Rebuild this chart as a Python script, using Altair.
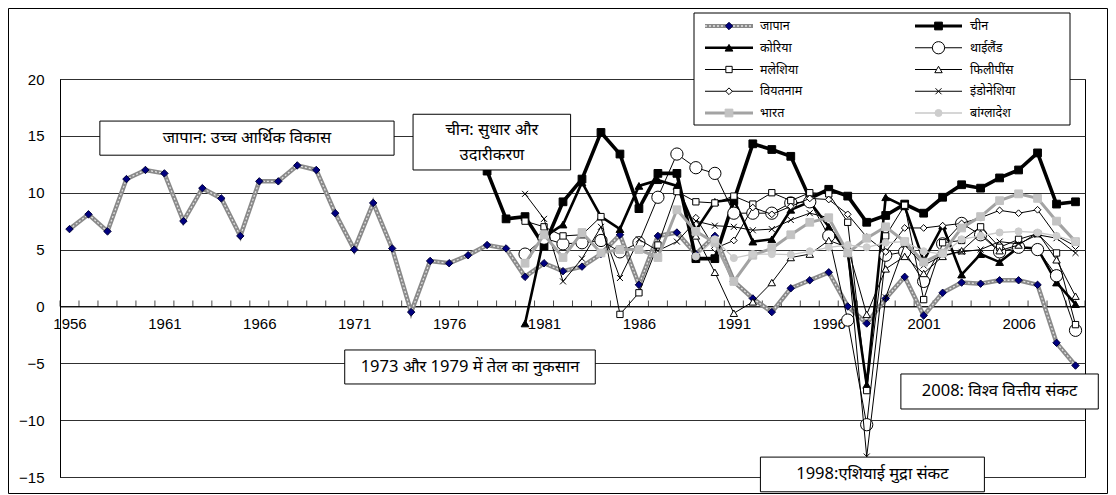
import altair as alt
import pandas as pd

# ---------------- data ----------------
years_japan = list(range(1956, 2010))
japan = [6.8, 8.1, 6.6, 11.2, 12.0, 11.7, 7.5, 10.4, 9.5, 6.2,
         11.0, 11.0, 12.4, 12.0, 8.2, 5.0, 9.1, 5.1, -0.5, 4.0,
         3.8, 4.5, 5.4, 5.1, 2.6, 3.8, 3.1, 3.5, 4.6, 6.3,
         1.9, 6.2, 6.5, 4.6, 6.2, 2.2, 0.7, -0.5, 1.6, 2.3,
         3.0, 0.0, -1.5, 0.7, 2.6, -0.8, 1.2, 2.1, 2.0, 2.3,
         2.3, 1.9, -3.2, -5.2]

years_china = list(range(1978, 2010))
china = [11.9, 7.7, 7.9, 5.3, 9.2, 11.2, 15.3, 13.4, 8.6, 11.7,
         11.7, 4.2, 4.2, 9.3, 14.3, 13.8, 13.2, 9.5, 10.3, 9.7,
         7.4, 8.0, 9.0, 8.2, 9.6, 10.7, 10.4, 11.3, 12.0, 13.5,
         9.0, 9.2]

years_1980 = list(range(1980, 2010))
korea = [-1.5, 6.1, 7.2, 10.9, 7.9, 6.8, 10.6, 11.1, 10.6, 6.7,
         9.2, 9.4, 5.7, 5.9, 8.5, 9.2, 7.0, 4.7, -6.9, 9.6,
         8.8, 4.0, 7.1, 2.8, 4.6, 3.9, 5.2, 5.1, 2.1, 0.2]
thailand = [4.6, 6.0, 5.5, 5.6, 5.8, 4.8, 5.6, 9.6, 13.4, 12.2,
            11.7, 8.2, 8.2, 8.2, 9.1, 9.2, 6.2, -1.2, -10.4, 4.5,
            4.8, 2.2, 5.5, 7.3, 6.3, 4.8, 5.2, 5.0, 2.7, -2.1]
malaysia = [7.5, 7.0, 6.2, 6.3, 7.9, -0.7, 1.2, 5.4, 10.1, 9.2,
            9.1, 9.7, 9.0, 10.0, 9.3, 10.0, 9.9, 7.4, -7.4, 6.2,
            8.9, 0.6, 5.6, 5.8, 7.0, 5.2, 5.9, 6.4, 4.7, -1.6]
indonesia = [9.9, 7.7, 2.2, 4.2, 7.0, 2.5, 5.9, 4.9, 5.7, 7.5,
             7.1, 7.0, 6.7, 6.8, 7.6, 8.2, 7.8, 4.7, -13.2, 0.8,
             5.4, 3.6, 4.5, 4.8, 5.0, 5.7, 5.5, 6.3, 6.0, 4.7]
india = [3.8, 6.3, 4.3, 6.5, 4.7, 5.0, 5.0, 4.3, 8.5, 6.6,
         5.6, 2.2, 4.5, 5.1, 6.3, 7.4, 7.8, 4.7, 6.0, 7.0,
         5.7, 3.9, 4.7, 6.9, 7.9, 9.3, 9.9, 9.5, 7.5, 5.7]

years_1989 = list(range(1989, 2010))
philippines = [6.2, 3.0, -0.6, 0.4, 2.1, 4.3, 4.6, 5.8, 5.2, -0.7,
               3.3, 4.4, 2.9, 4.4, 4.9, 6.4, 4.9, 5.4, 6.5, 4.1, 0.9]
vietnam = [7.8, 5.1, 5.8, 8.7, 8.1, 8.8, 9.5, 9.4, 8.1, 6.1,
           4.8, 6.9, 6.9, 7.1, 7.3, 7.8, 8.45, 8.2, 8.5, 6.2, 5.3]
bangladesh = [4.4, 5.9, 4.25, 4.6, 4.6, 4.55, 4.85, 5.2, 5.4, 5.2,
              5.6, 5.7, 4.85, 4.6, 5.9, 6.2, 6.5, 6.6, 6.5, 6.2, 5.7]

series_names = ["जापान", "चीन", "कोरिया", "थाईलैंड", "मलेशिया",
                "फिलीपींस", "वियतनाम", "इंडोनेशिया", "भारत", "बांग्लादेश"]
series_years = [years_japan, years_china, years_1980, years_1980, years_1980,
                years_1989, years_1989, years_1980, years_1980, years_1989]
series_values = [japan, china, korea, thailand, malaysia,
                 philippines, vietnam, indonesia, india, bangladesh]

x_label_years = [1956, 1961, 1966, 1971, 1976, 1981, 1986, 1991, 1996, 2001, 2006]
x_tick_positions = [1955.5 + i for i in range(55)]
y_ticks = [-15, -10, -5, 0, 5, 10, 15, 20]

# annotation boxes (data coordinates)
ann_labels = ["जापान: उच्च आर्थिक विकास", "", "1973 और 1979 में तेल का नुकसान",
              "2008: विश्व वित्तीय संकट", "1998:एशियाई मुद्रा संकट"]
ann_x1 = [1957.6, 1974.1, 1970.5, 1999.8, 1992.4]
ann_x2 = [1973.1, 1982.4, 1983.7, 2010.2, 2004.2]
ann_y1 = [16.3, 16.9, -3.83, -5.94, -13.25]
ann_y2 = [13.3, 12.0, -6.82, -9.02, -16.3]
china_box_lines = ["चीन: सुधार और", "उदारीकरण"]
china_box_line_y = [15.55, 13.3]

# ---------------- layout ----------------
W, H = 1025, 398
XDOM = [1955.5, 2009.5]
YDOM = [-15, 20]
zero_from_bottom = H - H * (YDOM[1] - 0) / (YDOM[1] - YDOM[0])

xscale = alt.Scale(domain=XDOM, nice=False, zero=False)
yscale = alt.Scale(domain=YDOM, nice=False, zero=False)

TICK_FONT = "Liberation Sans"
HI_FONT = "Noto Sans"

XAXIS = alt.Axis(values=x_label_years, format="d", ticks=False, grid=False,
                 domain=True, domainColor="black", domainWidth=1,
                 labelFont=TICK_FONT, labelFontSize=15, labelColor="black",
                 labelPadding=10, offset=-zero_from_bottom, labelFlush=False,
                 title=None)
YAXIS = alt.Axis(values=y_ticks, grid=True, gridColor="#303030", gridWidth=1,
                 ticks=False, domain=True, domainColor="black",
                 labelFont=TICK_FONT, labelFontSize=15, labelColor="black",
                 labelPadding=16, title=None)


def X(field):
    return alt.X(field, type="quantitative", scale=xscale, axis=XAXIS, title=None)


def Y(field):
    return alt.Y(field, type="quantitative", scale=yscale, axis=YAXIS, title=None)


styles = {
    "जापान": dict(line="#8a8a8a", width=4.5, overlay=True, shape="diamond",
                  fill="#000080", stroke="#00003a", size=55),
    "चीन": dict(line="black", width=3.6, shape="square", fill="black",
                stroke="black", size=60),
    "कोरिया": dict(line="black", width=2.6, shape="triangle-up", fill="black",
                   stroke="black", size=60),
    "थाईलैंड": dict(line="black", width=1, shape="circle", fill="white",
                    stroke="black", size=150),
    "मलेशिया": dict(line="black", width=1, shape="square", fill="white",
                    stroke="black", size=40),
    "फिलीपींस": dict(line="black", width=1, shape="triangle-up", fill="white",
                     stroke="black", size=55),
    "वियतनाम": dict(line="black", width=1, shape="diamond", fill="white",
                    stroke="black", size=45),
    "इंडोनेशिया": dict(line="black", width=1, shape="M-1,-1L1,1M-1,1L1,-1",
                       fill=None, stroke="black", size=36),
    "भारत": dict(line="#a3a3a3", width=3, shape="square", fill="#c3c3c3",
                 stroke="#c3c3c3", size=60),
    "बांग्लादेश": dict(line="#c8c8c8", width=1.3, shape="circle", fill="#cdcdcd",
                        stroke="#cdcdcd", size=50),
}

layers = []

# tick marks on the zero line (category boundaries)
ticks_df = pd.DataFrame({"x": x_tick_positions, "y": [0] * len(x_tick_positions)})
layers.append(alt.Chart(ticks_df).mark_tick(
    orient="vertical", size=6, thickness=1, color="black", yOffset=-3
).encode(x=X("x"), y=Y("y")))


def point_mark(st):
    if st["fill"] is None:
        return dict(shape=st["shape"], filled=False, stroke=st["stroke"],
                    strokeWidth=1, size=st["size"], opacity=1)
    return dict(shape=st["shape"], filled=True, fill=st["fill"], stroke=st["stroke"],
                strokeWidth=1, size=st["size"], opacity=1, fillOpacity=1)


for name, yrs, vals in zip(series_names, series_years, series_values):
    st = styles[name]
    df = pd.DataFrame({"year": yrs, "value": vals})
    layers.append(alt.Chart(df).mark_line(color=st["line"], strokeWidth=st["width"])
                  .encode(x=X("year"), y=Y("value")))
    if st.get("overlay"):
        layers.append(alt.Chart(df).mark_line(color="#e2e2e2", strokeWidth=1.3,
                                              strokeDash=[2, 2])
                      .encode(x=X("year"), y=Y("value")))
    layers.append(alt.Chart(df).mark_point(**point_mark(st))
                  .encode(x=X("year"), y=Y("value")))

# annotation boxes
ann_df = pd.DataFrame({"x1": ann_x1, "x2": ann_x2, "y1": ann_y1, "y2": ann_y2,
                       "label": ann_labels})
ann_df["xc"] = (ann_df["x1"] + ann_df["x2"]) / 2
ann_df["yc"] = (ann_df["y1"] + ann_df["y2"]) / 2
layers.append(alt.Chart(ann_df).mark_rect(fill="white", stroke="black", strokeWidth=1)
              .encode(x=X("x1"), x2="x2", y=Y("y1"), y2="y2"))
layers.append(alt.Chart(ann_df[ann_df["label"] != ""]).mark_text(
    font=HI_FONT, fontSize=16.5, color="black", align="center", baseline="middle")
    .encode(x=X("xc"), y=Y("yc"), text="label:N"))
china_df = pd.DataFrame({"label": china_box_lines, "y": china_box_line_y,
                         "x": [(ann_x1[1] + ann_x2[1]) / 2] * 2})
layers.append(alt.Chart(china_df).mark_text(
    font=HI_FONT, fontSize=16.5, color="black", align="center", baseline="middle")
    .encode(x=X("x"), y=Y("y"), text="label:N"))

# legend (drawn box, two columns)
one = pd.DataFrame({"a": [0]})
LEG_X0, LEG_X1, LEG_Y0, LEG_Y1 = 634, 1010, -66, 46
layers.append(alt.Chart(one).mark_rect(fill="white", stroke="black", strokeWidth=1)
              .encode(x=alt.value(LEG_X0), x2=alt.value(LEG_X1),
                      y=alt.value(LEG_Y0), y2=alt.value(LEG_Y1)))
col_line = [(645, 693), (855, 902)]
col_text = [700, 910]
for i, name in enumerate(series_names):
    st = styles[name]
    c, r = i % 2, i // 2
    yy = -53 + r * 21.75
    xa, xb = col_line[c]
    if st.get("overlay"):
        layers.append(alt.Chart(one).mark_rule(color="#8a8a8a", strokeWidth=4)
                      .encode(x=alt.value(xa), x2=alt.value(xb), y=alt.value(yy)))
        layers.append(alt.Chart(one).mark_rule(color="#e2e2e2", strokeWidth=1.3,
                                               strokeDash=[2, 2])
                      .encode(x=alt.value(xa), x2=alt.value(xb), y=alt.value(yy)))
    else:
        layers.append(alt.Chart(one).mark_rule(color=st["line"],
                                               strokeWidth=min(st["width"], 3))
                      .encode(x=alt.value(xa), x2=alt.value(xb), y=alt.value(yy)))
    layers.append(alt.Chart(one).mark_point(**point_mark(st))
                  .encode(x=alt.value((xa + xb) / 2), y=alt.value(yy)))
    layers.append(alt.Chart(pd.DataFrame({"t": [name]})).mark_text(
        font=HI_FONT, fontSize=12.5, color="black", align="left", baseline="middle")
        .encode(x=alt.value(col_text[c]), y=alt.value(yy), text="t:N"))

# outer chart frame
layers.append(alt.Chart(one).mark_rect(fill=None, stroke="black", strokeWidth=1,
                                       filled=False)
              .encode(x=alt.value(-51.5), x2=alt.value(1047.5),
                      y=alt.value(-70.5), y2=alt.value(414.5)))

chart = alt.layer(*layers).properties(
    width=W, height=H,
    autosize=alt.AutoSizeParams(type="none"),
    padding={"left": 52, "top": 71, "right": 23, "bottom": 17},
    background="white",
).configure_view(stroke="black", strokeWidth=1)

chart.save("out.html", embed_options={"renderer": "svg", "actions": False})
